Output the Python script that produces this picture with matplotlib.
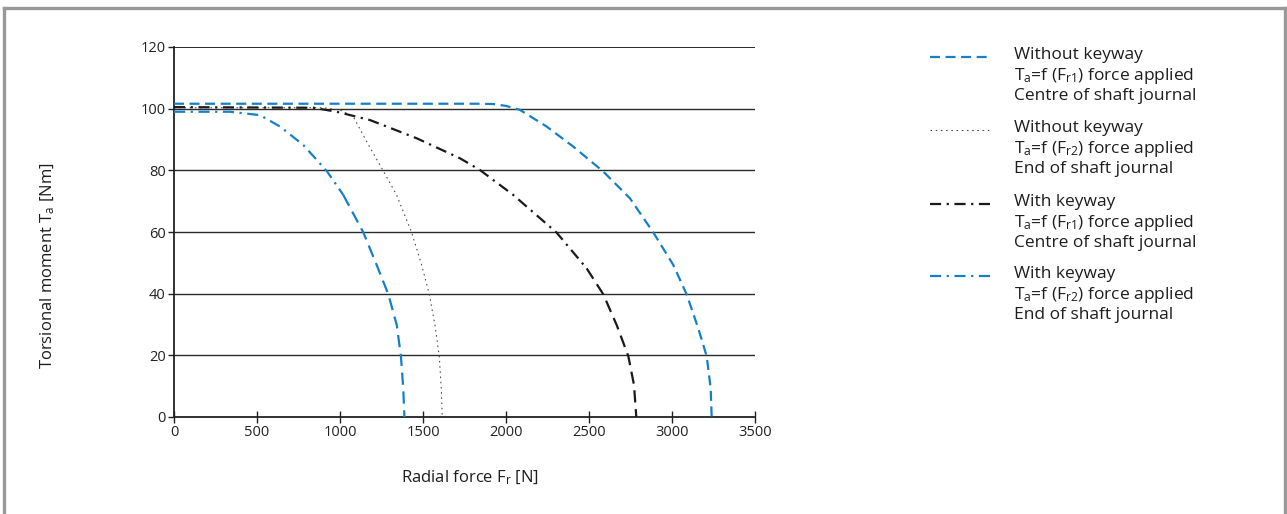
import matplotlib
matplotlib.use("Agg")
import matplotlib.pyplot as plt
from matplotlib.lines import Line2D

plt.rcParams['font.family'] = ['Open Sans', 'DejaVu Sans']
plt.rcParams['mathtext.default'] = 'regular'

# curve data (radial force [N], torsional moment [Nm])
x_nokey_fr1 = [0, 1843, 1923, 2000, 2084, 2245, 2405, 2586, 2747, 2888, 3008, 3088, 3158, 3209, 3233, 3239]
y_nokey_fr1 = [101.6, 101.6, 101.5, 100.9, 99.6, 94.2, 87.7, 79.6, 70.9, 59.8, 49.3, 39.8, 28.8, 19.7, 9.3, 0]

x_nokey_fr2 = [0, 900, 1000, 1080, 1161, 1261, 1341, 1432, 1492, 1538, 1572, 1598, 1610, 1616]
y_nokey_fr2 = [100.3, 100.3, 99.6, 97.4, 89.3, 79.8, 72, 59.8, 49.3, 39.8, 29.8, 19.7, 9.3, 0]

x_key_fr1 = [0, 839, 980, 1181, 1462, 1723, 1843, 2044, 2305, 2486, 2586, 2667, 2737, 2771, 2785]
y_key_fr1 = [100.5, 100.3, 99, 96.3, 90.4, 83.9, 80.1, 72, 59.8, 48.2, 39.8, 29.8, 19.7, 10.4, 0]

x_key_fr2 = [0, 337, 518, 639, 779, 920, 1020, 1141, 1221, 1291, 1342, 1367, 1381, 1388]
y_key_fr2 = [99.0, 99.0, 97.9, 94.2, 88.2, 79.8, 72, 59.8, 49.3, 39.8, 29.8, 19.7, 9.3, 0]

x_ticks = [0, 500, 1000, 1500, 2000, 2500, 3000, 3500]
y_ticks = [0, 20, 40, 60, 80, 100, 120]

legend_labels = [
    "Without keyway\nT$_a$=f (F$_{r1}$) force applied\nCentre of shaft journal",
    "Without keyway\nT$_a$=f (F$_{r2}$) force applied\nEnd of shaft journal",
    "With keyway\nT$_a$=f (F$_{r1}$) force applied\nCentre of shaft journal",
    "With keyway\nT$_a$=f (F$_{r2}$) force applied\nEnd of shaft journal",
]

blue = '#1480c8'
W, H = 1287, 514
fig = plt.figure(figsize=(W / 100, H / 100), dpi=100)
ax = fig.add_axes([174 / W, 1 - 417 / H, (755 - 174) / W, (417 - 47) / H])

dashed = (4.5, 2.5)
dashdot = (5, 2.5, 1, 2.5)
styles = [
    dict(color=blue, lw=1.6, dashes=dashed),
    dict(color='#444444', lw=0.75, dashes=(1.5, 3.5)),
    dict(color='#1a1a1a', lw=1.6, dashes=dashdot),
    dict(color=blue, lw=1.6, dashes=dashdot),
]
series = [(x_nokey_fr1, y_nokey_fr1), (x_nokey_fr2, y_nokey_fr2),
          (x_key_fr1, y_key_fr1), (x_key_fr2, y_key_fr2)]
# below this moment the dash-dot curves are drawn with plain dashes in the original
dot_break = [None, None, 45, 60]

for y in y_ticks[1:]:
    ax.axhline(y, color='#2a2a2a', lw=1.0 if y < 120 else 1.4, zorder=1)

for (xs, ys), st, brk in zip(series, styles, dot_break):
    if brk is None:
        ax.plot(xs, ys, zorder=3, **st)
        continue
    i = next(k for k, v in enumerate(ys) if v < brk)
    ax.plot(xs[:i], ys[:i], zorder=3, **st)
    low = dict(st, dashes=(5.5, 3))
    ax.plot(xs[i - 1:], ys[i - 1:], zorder=3, **low)

ax.set_xlim(0, 3500)
ax.set_ylim(0, 120)
ax.set_xticks(x_ticks)
ax.set_yticks(y_ticks)
for s in ['top', 'right']:
    ax.spines[s].set_visible(False)
for s in ['left', 'bottom']:
    ax.spines[s].set_color('#222222')
    ax.spines[s].set_linewidth(1.3)
ax.tick_params(axis='x', direction='inout', length=8, width=1, colors='#222222', labelsize=10.5, pad=2)
ax.tick_params(axis='y', direction='out', length=4, width=1, colors='#222222', labelsize=10.5, pad=2)

fig.text(48 / W, 1 - 266 / H, "Torsional moment T$_a$ [Nm]", rotation=90,
         ha='center', va='center', fontsize=12, color='#1e1e1e')
fig.text(470 / W, 1 - 478 / H, "Radial force F$_r$ [N]",
         ha='center', va='center', fontsize=12, color='#1e1e1e')

# legend drawn by hand so the sample sits beside the first text line
leg_y = [57, 130, 204, 276]
for ly, label, st in zip(leg_y, legend_labels, styles):
    fig.add_artist(Line2D([930 / W, 990 / W], [1 - ly / H, 1 - ly / H],
                          transform=fig.transFigure, **st))
    fig.text(1014 / W, 1 - (ly - 10) / H, label, ha='left', va='top',
             fontsize=12.5, color='#1e1e1e', linespacing=1.2)

# grey frame around the figure (no bottom edge)
frame = dict(color='#999999', lw=2.4, transform=fig.transFigure)
fig.add_artist(Line2D([4 / W, 4 / W], [0, 1 - 8 / H], **frame))
fig.add_artist(Line2D([4 / W, 1285 / W], [1 - 8 / H, 1 - 8 / H], **frame))
fig.add_artist(Line2D([1285 / W, 1285 / W], [0, 1 - 8 / H], **frame))

fig.savefig("out.png", dpi=100)
